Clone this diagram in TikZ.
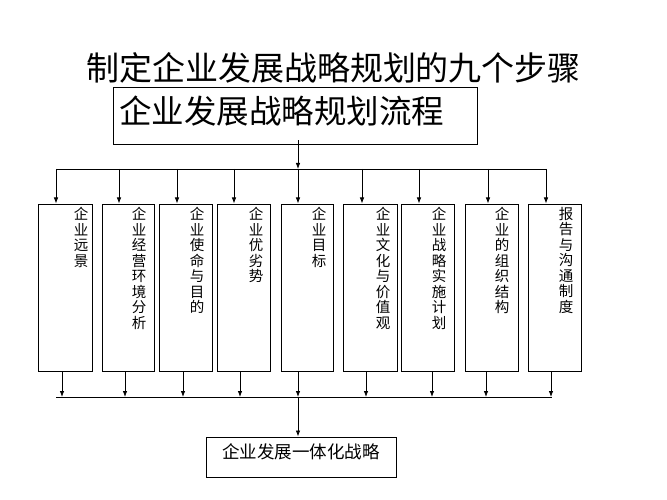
\documentclass[tikz,border=0pt]{standalone}
\usepackage{fontspec}
\newfontfamily\song{Noto Sans CJK SC}
\usetikzlibrary{arrows.meta}
\begin{document}
\begin{tikzpicture}[x=1pt,y=-1pt,
  stepbox/.style={draw,line width=1pt,inner sep=0pt},
  conn/.style={line width=0.8pt},
  arr/.style={line width=0.8pt,-{Latex[length=6pt,width=4.5pt]}},
  vtext/.style={anchor=north,inner sep=0pt,text width=16pt,align=center,
    font=\song\fontsize{14.5}{15.5}\selectfont}]
\fill[white] (0,0) rectangle (667,500);
\useasboundingbox (0,0) rectangle (667,500);
% title
\node[inner sep=0pt,font=\song\fontsize{33}{36}\selectfont] (title) at (333.5,67.5) {制定企业发展战略规划的九个步骤};
% top box
\node[stepbox,minimum width=364pt,minimum height=57pt] (top) at (295,116.5) {};
\node[anchor=west,inner sep=0pt,font=\song\fontsize{32.5}{34}\selectfont] (toptext) at (119,111) {企业发展战略规划流程};
% step boxes
\foreach \i/\cx/\w in {1/65/54,2/128/52,3/185.5/53,4/243.5/53,5/307/52,6/370/54,7/427.5/53,8/491.5/53,9/554.5/53}{
  \node[stepbox,minimum width=\w pt,minimum height=167pt] (b\i) at (\cx,287.5) {};
}
\node[vtext] (t1) at (81,207) {企\\业\\远\\景};
\node[vtext] (t2) at (139,207) {企\\业\\经\\营\\环\\境\\分\\析};
\node[vtext] (t3) at (197,207) {企\\业\\使\\命\\与\\目\\的};
\node[vtext] (t4) at (256,207) {企\\业\\优\\劣\\势};
\node[vtext] (t5) at (319,207) {企\\业\\目\\标};
\node[vtext] (t6) at (383,207) {企\\业\\文\\化\\与\\价\\值\\观};
\node[vtext] (t7) at (439,207) {企\\业\\战\\略\\实\\施\\计\\划};
\node[vtext] (t8) at (502,207) {企\\业\\的\\组\\织\\结\\构};
\node[vtext] (t9) at (566,207) {报\\告\\与\\沟\\通\\制\\度};
% final box
\node[stepbox,minimum width=190pt,minimum height=40pt] (final) at (301,457) {};
\node[inner sep=0pt,font=\song\fontsize{17.5}{19}\selectfont] (finaltext) at (301,452) {企业发展一体化战略};
% bus coordinates
\foreach \i/\x in {1/56,2/119,3/177,4/234,5/298,6/362,7/419,8/488,9/546}{
  \coordinate (ta\i) at (\x,169);
}
\foreach \i/\x in {1/62,2/125,3/183,4/240,5/298,6/366,7/432,8/486,9/551}{
  \coordinate (ba\i) at (\x,397);
}
\coordinate (bl) at (56,397);
\coordinate (br) at (552,397);
% buses
\draw[conn] (ta1) -- (ta9);
\draw[conn] (bl) -- (br);
% top to bus
\draw[arr] ([yshift=5pt]top.south -| ta5) -- (ta5);
% bus to boxes
\foreach \i in {1,...,9}{
  \draw[arr] (ta\i) -- (ta\i |- b\i.north);
  \draw[arr] (b\i.south -| ba\i) -- (ba\i);
}
% bus to final
\draw[arr] (ba5) -- (ba5 |- final.north);
\end{tikzpicture}
\end{document}
